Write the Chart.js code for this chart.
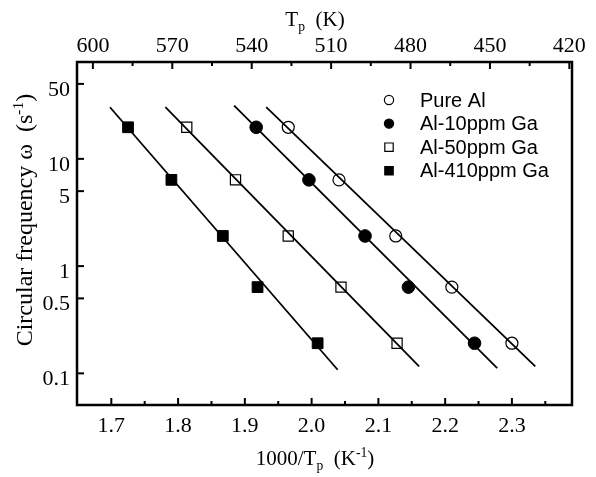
<!DOCTYPE html>
<html>
<head>
<meta charset="utf-8">
<script src="https://cdn.jsdelivr.net/npm/chart.js@4.4.0/dist/chart.umd.min.js"></script>
<style>
  body { margin: 0; background: #fff; }
  #wrap { width: 596px; height: 477px; }
</style>
</head>
<body>
<div id="wrap"><canvas id="chartOmega" width="596" height="477"></canvas></div>
<script>
  // data
  var seriesNames = ['Pure Al', 'Al-10ppm Ga', 'Al-50ppm Ga', 'Al-410ppm Ga'];
  var omega = [19.7, 6.37, 1.91, 0.637, 0.191];
  var xPureAl = [1.965, 2.041, 2.126, 2.210, 2.300];
  var xAl10 = [1.917, 1.996, 2.080, 2.145, 2.244];
  var xAl50 = [1.813, 1.886, 1.965, 2.044, 2.128];
  var xAl410 = [1.725, 1.790, 1.867, 1.919, 2.009];
  // fitted lines (end points)
  var fitPureAlX = [1.932, 2.335], fitPureAlY = [30.3, 0.116];
  var fitAl10X = [1.884, 2.278], fitAl10Y = [31.4, 0.112];
  var fitAl50X = [1.781, 2.161], fitAl50Y = [30.3, 0.116];
  var fitAl410X = [1.698, 2.039], fitAl410Y = [30.3, 0.108];
  // ticks
  var xTicks = [1.7, 1.8, 1.9, 2.0, 2.1, 2.2, 2.3];
  var xMinorTicks = [1.75, 1.85, 1.95, 2.05, 2.15, 2.25, 2.35];
  var tpTicks = [600, 570, 540, 510, 480, 450, 420];
  var tpMinorTicks = [585, 555, 525, 495, 465, 435];
  var yTicks = [0.1, 0.5, 1, 5, 10, 50];

  var SERIF = "'Liberation Serif', 'Times New Roman', serif";
  var SANS = "'Liberation Sans', Arial, sans-serif";

  function toPoints(xs, ys) {
    return xs.map(function (x, i) { return { x: x, y: ys[i] }; });
  }
  function markers(label, xs, style, filled, r) {
    return {
      label: label, data: toPoints(xs, omega), showLine: false,
      pointStyle: style, pointRadius: r, pointHoverRadius: r,
      pointBackgroundColor: filled ? '#000' : 'rgba(0,0,0,0)',
      pointBorderColor: '#000', pointBorderWidth: filled ? 1 : 1.2
    };
  }
  function fitLine(xs, ys) {
    return {
      label: 'fit', data: toPoints(xs, ys), showLine: true, pointRadius: 0,
      borderColor: '#000', borderWidth: 1.8, fill: false
    };
  }

  // sub/superscript text
  function richText(ctx, parts, x, y, size) {
    var widths = parts.map(function (p) {
      ctx.font = (p[1] ? size * 0.65 : size) + 'px ' + SERIF;
      return ctx.measureText(p[0]).width;
    });
    var total = widths.reduce(function (a, b) { return a + b; }, 0);
    var cx = x - total / 2;
    parts.forEach(function (p, i) {
      ctx.font = (p[1] ? size * 0.65 : size) + 'px ' + SERIF;
      var dy = p[1] === 1 ? size * 0.25 : (p[1] === 2 ? -size * 0.38 : 0);
      ctx.fillText(p[0], cx, y + dy);
      cx += widths[i];
    });
  }

  var framePlugin = {
    id: 'frame',
    afterDraw: function (chart) {
      var ctx = chart.ctx, a = chart.chartArea;
      var sx = chart.scales.x, st = chart.scales.xTop, sy = chart.scales.y;
      ctx.save();
      ctx.strokeStyle = '#000';
      ctx.fillStyle = '#000';
      ctx.lineWidth = 2.5;
      ctx.strokeRect(a.left, a.top, a.right - a.left, a.bottom - a.top);
      ctx.lineWidth = 2;
      function tick(x1, y1, x2, y2) { ctx.beginPath(); ctx.moveTo(x1, y1); ctx.lineTo(x2, y2); ctx.stroke(); }
      xTicks.forEach(function (v) { var p = sx.getPixelForValue(v); tick(p, a.bottom, p, a.bottom - 7); });
      xMinorTicks.forEach(function (v) { var p = sx.getPixelForValue(v); tick(p, a.bottom, p, a.bottom - 4); });
      tpTicks.forEach(function (v) { var p = st.getPixelForValue(v); tick(p, a.top, p, a.top + 7); });
      tpMinorTicks.forEach(function (v) { var p = st.getPixelForValue(v); tick(p, a.top, p, a.top + 4); });
      yTicks.forEach(function (v) { var p = sy.getPixelForValue(v); tick(a.left, p, a.left + 7, p); });

      // axis titles
      ctx.textAlign = 'left';
      ctx.textBaseline = 'alphabetic';
      richText(ctx, [['T', 0], ['p', 1], ['  (K)', 0]], 315, 26, 21);
      richText(ctx, [['1000/T', 0], ['p', 1], ['  (K', 0], ['-1', 2], [')', 0]], 315, 465, 21);
      ctx.save();
      ctx.translate(32, 220);
      ctx.rotate(-Math.PI / 2);
      richText(ctx, [['Circular frequency \u03c9  (s', 0], ['-1', 2], [')', 0]], 0, 0, 24);
      ctx.restore();

      // legend
      var styles = [['circle', false], ['circle', true], ['rect', false], ['rect', true]];
      ctx.font = '20px ' + SANS;
      ctx.textBaseline = 'middle';
      seriesNames.forEach(function (name, i) {
        var ly = 100 + i * 23.6, lx = 389;
        ctx.lineWidth = 1.2;
        ctx.beginPath();
        if (styles[i][0] === 'circle') ctx.arc(lx, ly, 4.6, 0, Math.PI * 2);
        else ctx.rect(lx - 4.2, ly - 4.2, 8.4, 8.4);
        if (styles[i][1]) ctx.fill();
        ctx.stroke();
        ctx.fillText(name, 420, ly + 1);
      });
      ctx.restore();
    }
  };

  new Chart(document.getElementById('chartOmega').getContext('2d'), {
    type: 'scatter',
    data: {
      datasets: [
        markers(seriesNames[0], xPureAl, 'circle', false, 6),
        markers(seriesNames[1], xAl10, 'circle', true, 6.3),
        markers(seriesNames[2], xAl50, 'rect', false, 7.2),
        markers(seriesNames[3], xAl410, 'rect', true, 7.6),
        fitLine(fitPureAlX, fitPureAlY),
        fitLine(fitAl10X, fitAl10Y),
        fitLine(fitAl50X, fitAl50Y),
        fitLine(fitAl410X, fitAl410Y)
      ]
    },
    options: {
      responsive: false,
      animation: false,
      layout: { padding: { left: 0, right: 24, top: 0, bottom: 0 } },
      plugins: { legend: { display: false }, tooltip: { enabled: false } },
      scales: {
        x: {
          type: 'linear', position: 'bottom', min: 1.6486, max: 2.39,
          afterBuildTicks: function (s) { s.ticks = xTicks.map(function (v) { return { value: v }; }); },
          afterFit: function (s) { s.height = 72; },
          grid: { display: false, drawTicks: false }, border: { display: false },
          ticks: {
            color: '#000', font: { family: SERIF, size: 22 }, padding: 8,
            maxRotation: 0, autoSkip: false,
            callback: function (v) { return Number(v).toFixed(1); }
          }
        },
        xTop: {
          type: 'linear', position: 'top', reverse: true, min: 419, max: 606,
          afterBuildTicks: function (s) { s.ticks = tpTicks.map(function (v) { return { value: v }; }); },
          afterFit: function (s) { s.height = 62; },
          grid: { display: false, drawTicks: false }, border: { display: false },
          ticks: {
            color: '#000', font: { family: SERIF, size: 22 }, padding: 3,
            maxRotation: 0, autoSkip: false,
            callback: function (v) { return String(v); }
          }
        },
        y: {
          type: 'logarithmic', position: 'left', min: 0.0507, max: 80,
          afterBuildTicks: function (s) { s.ticks = yTicks.map(function (v) { return { value: v }; }); },
          afterFit: function (s) { s.width = 77; },
          grid: { display: false, drawTicks: false }, border: { display: false },
          ticks: {
            color: '#000', font: { family: SERIF, size: 22 }, padding: 7, labelOffset: 6,
            autoSkip: false,
            callback: function (v) { return String(v); }
          }
        }
      }
    },
    plugins: [framePlugin]
  });
</script>
</body>
</html>
